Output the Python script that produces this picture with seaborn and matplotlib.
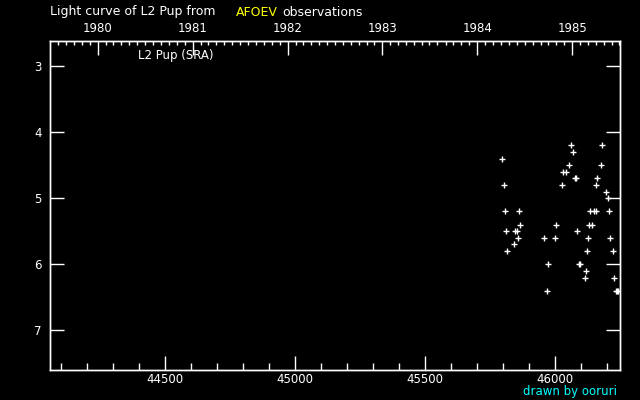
import datetime
import pandas as pd
import matplotlib
matplotlib.use("Agg")
import matplotlib.pyplot as plt
import seaborn as sns

# observations (JD - 2400000, visual magnitude)
jd = [46063, 46182, 46070, 45797, 46055, 46178, 46032, 46043, 46075, 46079,
      46163, 45805, 46028, 46159, 46197, 46205, 45809, 45863, 46136, 46150,
      46158, 46209, 45867, 46005, 46132, 46143, 45813, 45847, 45853, 46086,
      45859, 45959, 46001, 46128, 46213, 45843, 45816, 46124, 46224, 45974,
      46093, 46097, 46120, 46117, 46228, 45970, 46234, 46238, 46242]
mag = [4.2, 4.2, 4.3, 4.4, 4.5, 4.5, 4.6, 4.6, 4.7, 4.7,
       4.7, 4.8, 4.8, 4.8, 4.9, 5.0, 5.2, 5.2, 5.2, 5.2,
       5.2, 5.2, 5.4, 5.4, 5.4, 5.4, 5.5, 5.5, 5.5, 5.5,
       5.6, 5.6, 5.6, 5.6, 5.6, 5.7, 5.8, 5.8, 5.8, 6.0,
       6.0, 6.0, 6.1, 6.2, 6.2, 6.4, 6.4, 6.4, 6.4]

years = [1980, 1981, 1982, 1983, 1984, 1985]
jd_ticks = [44500, 45000, 45500, 46000]
mag_ticks = [3, 4, 5, 6, 7]

df = pd.DataFrame({"jd": jd, "mag": mag})

sns.set_theme(style="dark")
plt.rcParams["font.family"] = ["DejaVu Sans"]
plt.rcParams["text.color"] = "white"

fig = plt.figure(figsize=(6.4, 4.0), dpi=100, facecolor="black")
ax = fig.add_axes([50 / 640, 30 / 400, 570 / 640, 329 / 400])
ax.set_facecolor("black")

sns.scatterplot(data=df, x="jd", y="mag", marker="+", color="white",
                s=20, linewidth=1, ax=ax, legend=False)

ax.set_xlim(44056, 46250)
ax.set_ylim(7.6, 2.62)
ax.set_xlabel("")
ax.set_ylabel("")
ax.grid(False)

for sp in ax.spines.values():
    sp.set_color("white")
    sp.set_linewidth(1)

ax.set_xticks(jd_ticks)
ax.set_xticklabels([str(v) for v in jd_ticks])
ax.set_xticks(range(44100, 46250, 100), minor=True)
ax.set_yticks(mag_ticks)
ax.set_yticklabels([str(v) for v in mag_ticks])
ax.tick_params(axis="x", which="major", direction="in", length=10, width=1,
               color="white", labelcolor="white", labelsize=8.5, pad=2,
               bottom=True, top=False)
ax.tick_params(axis="x", which="minor", direction="in", length=5, width=1,
               color="white", bottom=True, top=False)
ax.tick_params(axis="y", which="major", direction="in", length=10, width=1,
               color="white", labelcolor="white", labelsize=8.5, pad=6,
               left=True, right=True)


# top axis: calendar years, monthly minor ticks
def to_jd(y, m=1):
    return (datetime.date(y, m, 1) - datetime.date(1980, 1, 1)).days + 44239.5


top = ax.twiny()
top.set_xlim(ax.get_xlim())
top.set_xticks([to_jd(y) for y in years])
top.set_xticklabels([str(y) for y in years])
top.set_xticks([to_jd(y, m) for y in range(1979, 1986) for m in range(1, 13)
                if 44056 < to_jd(y, m) < 46250], minor=True)
top.tick_params(axis="x", which="major", direction="in", length=10, width=1,
                color="white", labelcolor="white", labelsize=8.5, pad=4)
top.tick_params(axis="x", which="minor", direction="in", length=3, width=1,
                color="white")
top.grid(False)
for sp in top.spines.values():
    sp.set_color("white")
    sp.set_linewidth(1)

ax.text(0.154, 0.955, "L2 Pup (SRA)", transform=ax.transAxes, fontsize=8.5,
        color="white", va="center", ha="left")

fig.text(50 / 640, 1 - 12 / 400, "Light curve of L2 Pup from", fontsize=9,
         color="white", va="center", ha="left")
fig.text(236 / 640, 1 - 12 / 400, "AFOEV", fontsize=9,
         color="yellow", va="center", ha="left")
fig.text(282 / 640, 1 - 12 / 400, "observations", fontsize=9,
         color="white", va="center", ha="left")
fig.text(617 / 640, 1 - 391 / 400, "drawn by ooruri", fontsize=8.5,
         color="cyan", va="center", ha="right")

plt.savefig("out.png", dpi=100, facecolor="black")
plt.close()
